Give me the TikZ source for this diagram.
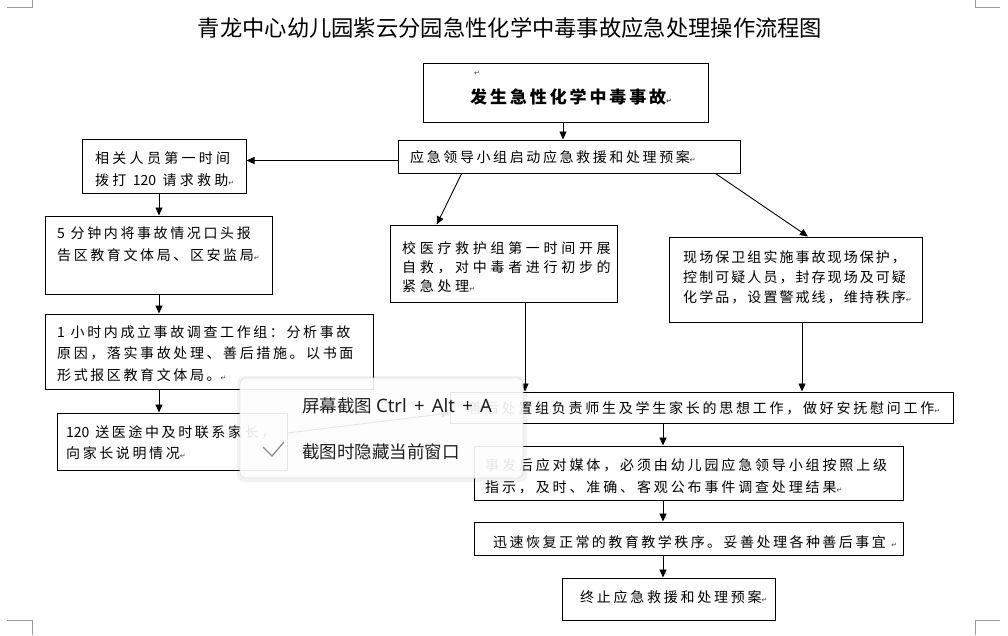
\documentclass[tikz,border=0pt]{standalone}
\usepackage{fontspec}
\setmainfont{Noto Sans CJK SC}
\newfontfamily\cjk{Noto Sans CJK SC}
\newfontfamily\latinui[WordSpace=1.5]{Noto Sans}
\newfontfamily\symfont{DejaVu Sans}
\usetikzlibrary{arrows.meta,calc}
\newcommand\parmk{{\symfont\fontsize{7}{7}\selectfont\textcolor{black!75}{↵}}}
\newcommand\nls[1]{{\cjk #1}}
\tikzset{
  box/.style={draw=black, line width=1pt, inner sep=0pt},
  txt/.style n args={2}{inner sep=0pt, anchor=west, align=left,
      font={\cjk\fontsize{14}{#1}\selectfont\addfontfeature{LetterSpace=#2}}},
  arr/.style={line width=0.9pt, -{Triangle[length=8pt,width=7pt]}},
  crop/.style={draw=black!40, line width=1pt},
  popup/.style={draw=black!12, line width=0.8pt, fill=white, fill opacity=0.9,
      rounded corners=6pt, inner sep=0pt},
  poptxt/.style={inner sep=0pt, anchor=west, text=black!88,
      font={\cjk\fontsize{17.5}{20}\selectfont}}
}
\begin{document}
\begin{tikzpicture}[x=1pt,y=-1pt]
\useasboundingbox (0,0) rectangle (1008,635);
% crop marks
\draw[crop] (7,7) -- (32,7) -- (32,0);
\draw[crop] (975,0) -- (975,7) -- (1000,7);
\draw[crop] (7,620) -- (32,620) -- (32,635);
\draw[crop] (975,635) -- (975,620) -- (1000,620);
% title
\node[inner sep=0pt, font={\cjk\fontsize{22.3}{24}\selectfont}] (title) at (510,28)
  {青龙中心幼儿园紫云分园急性化学中毒事故应急处理操作流程图};
% boxes
\node[box, minimum width=285pt, minimum height=59pt] (top)    at (565.5,92.5) {};
\node[box, minimum width=342pt, minimum height=33pt] (start)  at (569,156.5) {};
\node[box, minimum width=164pt, minimum height=54pt] (call)   at (164,166) {};
\node[box, minimum width=227pt, minimum height=78pt] (rep5)   at (158.5,255) {};
\node[box, minimum width=328pt, minimum height=75pt] (team1)  at (209,351.5) {};
\node[box, minimum width=230pt, minimum height=57pt] (b120)   at (172,441.5) {};
\node[box, minimum width=227pt, minimum height=77pt] (medic)  at (503.5,263.5) {};
\node[box, minimum width=253pt, minimum height=85pt] (guard)  at (795.5,279.5) {};
\node[box, minimum width=503pt, minimum height=31pt] (sh)     at (701.5,407.5) {};
\node[box, minimum width=429pt, minimum height=54pt] (media)  at (688.5,473) {};
\node[box, minimum width=429pt, minimum height=33pt] (resume) at (688.5,538.5) {};
\node[box, minimum width=213pt, minimum height=42pt] (endp)   at (668.5,599) {};
% texts
\node[inner sep=0pt, anchor=west] (topmark) at (474,73) {\parmk};
\node[inner sep=0pt, anchor=west, font={\cjk\bfseries\fontsize{17}{20}\selectfont\addfontfeature{LetterSpace=17}}]
  (top-t) at (470,97) {发生急性化学中毒事故\parmk};
\node[txt={21.5}{18.6}] (start-t) at (410,157) {应急领导小组启动应急救援和处理预案\parmk};
\node[txt={22}{23.4}] (call-t) at (95,169) {相关人员第一时间\\拨打 \nls{120} 请求救助\parmk};
\node[txt={22}{18.6}] (rep5-t) at (57,244) {5 分钟内将事故情况口头报\\告区教育文体局、区安监局\parmk};
\node[txt={21.5}{18.6}] (team1-t) at (57,353.5)
  {1 小时内成立事故调查工作组：分析事故\\原因，落实事故处理、善后措施。以书面\\形式报区教育文体局。\parmk};
\node[txt={21}{18.6}] (b120-t) at (66,442.5) {\nls{120} 送医途中及时联系家长，\\向家长说明情况\parmk};
\node[txt={19}{26.3}] (medic-t) at (402,267.5) {校医疗救护组第一时间开展\\自救，对中毒者进行初步的\\紧急处理\parmk};
\node[txt={20}{14.7}] (guard-t) at (683,277)
  {现场保卫组实施事故现场保护，\\控制可疑人员，封存现场及可疑\\化学品，设置警戒线，维持秩序\parmk};
\node[txt={21}{19.6}] (sh-t) at (468,408) {善后处置组负责师生及学生家长的思想工作，做好安抚慰问工作\parmk};
\node[txt={22}{20.5}] (media-t) at (485,476)
  {事发后应对媒体，必须由幼儿园应急领导小组按照上级\\指示，及时、准确、客观公布事件调查处理结果\parmk};
\node[txt={21}{17.6}] (resume-t) at (493,542) {迅速恢复正常的教育教学秩序。妥善处理各种善后事宜 \parmk};
\node[txt={21}{19.6}] (endp-t) at (580,597) {终止应急救援和处理预案\parmk};
% column coordinates
\coordinate (colT) at (563,0);
\coordinate (colL) at (159,0);
\coordinate (colM) at (525,0);
\coordinate (colR) at (802,0);
\coordinate (colC) at (663,0);
% connectors
\draw[arr] (top.south -| colT) -- (start.north -| colT);
\draw[arr] ([yshift=-4pt]start.west) -- ([yshift=-4pt]start.west -| call.east);
\draw[arr] (call.south -| colL) -- (rep5.north -| colL);
\draw[arr] (rep5.south -| colL) -- (team1.north -| colL);
\draw[arr] (team1.south -| colL) -- (b120.north -| colL);
\draw[arr] ($(start.south west)!0.187!(start.south east)$) -- ($(medic.north west)!0.207!(medic.north east)$);
\draw[arr] ($(start.south west)!0.927!(start.south east)$) -- ($(guard.north west)!0.549!(guard.north east)$);
\draw[arr] (medic.south -| colM) -- (sh.north -| colM);
\draw[arr] (guard.south -| colR) -- (sh.north -| colR);
\draw[arr] ([yshift=8.5pt]b120.east) -- ([yshift=-5.5pt]sh.west);
\draw[arr] (sh.south -| colC) -- (media.north -| colC);
\draw[arr] (media.south -| colC) -- (resume.north -| colC);
\draw[arr] (resume.south -| colC) -- (endp.north -| colC);
% screenshot popup overlay
\fill[black, opacity=0.05, rounded corners=7pt] (237,376) rectangle (527,482);
\node[popup, minimum width=283pt, minimum height=100pt] (pop) at (381.5,428) {};
\node[poptxt] (pop1) at (302,406) {屏幕截图 {\latinui\fontsize{18.5}{20}\selectfont Ctrl + Alt + A}};
\node[poptxt] (pop2) at (302,452) {截图时隐藏当前窗口};
\draw[black!45, line width=1.3pt] (263,447) -- (272,456) -- (284,442);
\end{tikzpicture}
\end{document}
